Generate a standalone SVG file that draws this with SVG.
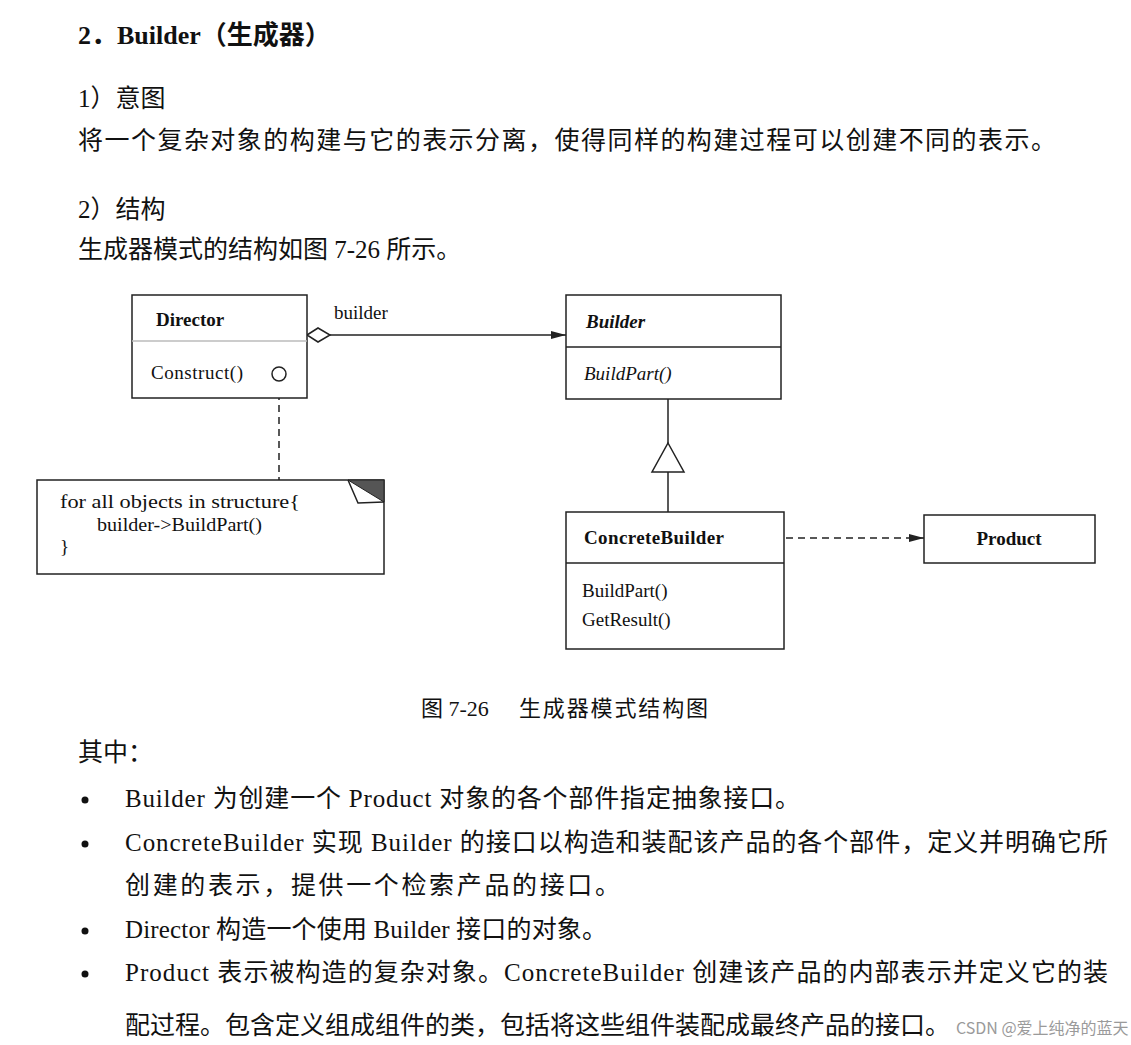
<svg xmlns="http://www.w3.org/2000/svg" width="1131" height="1045" viewBox="0 0 1131 1045">
<style>
.t{font-family:"Liberation Serif","Noto Sans CJK SC",serif;fill:#111}
.body{font-size:25px}
.h{font-size:26px;font-weight:bold}
.d{font-family:"Liberation Serif",serif;font-size:19px;fill:#111}
.b{font-weight:bold}
.i{font-style:italic}
.box{fill:#fff;stroke:#222;stroke-width:1.5}
.ln{stroke:#222;stroke-width:1.5;fill:none}
.dash{stroke:#222;stroke-width:1.5;fill:none;stroke-dasharray:7 5}
.wm{font-family:"Noto Sans CJK SC","Liberation Sans",sans-serif;font-size:16px;fill:#9a9a9a}
</style>
<defs>
<marker id="arr" markerWidth="16" markerHeight="10" refX="15" refY="5" orient="auto" markerUnits="userSpaceOnUse">
<path d="M0,1 L15,5 L0,9 Z" fill="#222"/>
</marker>
</defs>
<rect width="1131" height="1045" fill="#fff"/>

<g id="text">
<text class="t h" x="78" y="44">2．Builder（生成器）</text>
<text class="t body" x="78" y="107">1）意图</text>
<text class="t body" x="78" y="149" textLength="978" lengthAdjust="spacing">将一个复杂对象的构建与它的表示分离，使得同样的构建过程可以创建不同的表示。</text>
<text class="t body" x="78" y="218">2）结构</text>
<text class="t body" x="78" y="258">生成器模式的结构如图 7-26 所示。</text>
<text class="t" font-size="22" x="421" y="716">图 7-26<tspan x="519" textLength="189" lengthAdjust="spacing">生成器模式结构图</tspan></text>
<text class="t body" x="78" y="761">其中：</text>
<circle cx="85" cy="800" r="3.5" fill="#111"/>
<circle cx="85" cy="844" r="3.5" fill="#111"/>
<circle cx="85" cy="931" r="3.5" fill="#111"/>
<circle cx="85" cy="974" r="3.5" fill="#111"/>
<text class="t body" x="125" y="807" textLength="675" lengthAdjust="spacing">Builder 为创建一个 Product 对象的各个部件指定抽象接口。</text>
<text class="t body" x="125" y="851" textLength="983" lengthAdjust="spacing">ConcreteBuilder 实现 Builder 的接口以构造和装配该产品的各个部件，定义并明确它所</text>
<text class="t body" x="125" y="894" textLength="495" lengthAdjust="spacing">创建的表示，提供一个检索产品的接口。</text>
<text class="t body" x="125" y="938" textLength="482" lengthAdjust="spacing">Director 构造一个使用 Builder 接口的对象。</text>
<text class="t body" x="125" y="981" textLength="983" lengthAdjust="spacing">Product 表示被构造的复杂对象。ConcreteBuilder 创建该产品的内部表示并定义它的装</text>
<text class="t body" x="125" y="1034" textLength="825" lengthAdjust="spacing">配过程。包含定义组成组件的类，包括将这些组件装配成最终产品的接口。</text>
<text class="wm" x="956" y="1034">CSDN @爱上纯净的蓝天</text>
</g>

<g id="connectors">
<path class="ln" d="M307,335 L318,328 L330,335 L318,342 Z" fill="#fff"/>
<line class="ln" x1="330" y1="335" x2="566" y2="335" marker-end="url(#arr)"/>
<text class="d" x="334" y="319">builder</text>
<line class="ln" x1="668" y1="399" x2="668" y2="443"/>
<path class="ln" d="M668,443 L684,472 L652,472 Z" fill="#fff"/>
<line class="ln" x1="668" y1="472" x2="668" y2="512"/>
<line class="dash" x1="786" y1="538" x2="924" y2="538" marker-end="url(#arr)"/>
<line class="dash" x1="279" y1="381" x2="279" y2="480"/>
</g>

<g id="director">
<rect class="box" x="132" y="295" width="175" height="103"/>
<line x1="132" y1="341" x2="307" y2="341" stroke="#bbb" stroke-width="1.5"/>
<text class="d b" x="156" y="326">Director</text>
<text class="d" x="151" y="379" textLength="92" lengthAdjust="spacing">Construct()</text>
<circle cx="279" cy="374" r="7" fill="#fff" stroke="#222" stroke-width="1.5"/>
</g>

<g id="builder">
<rect class="box" x="566" y="295" width="215" height="104"/>
<line class="ln" x1="566" y1="347" x2="781" y2="347"/>
<text class="d b i" x="586" y="328">Builder</text>
<text class="d i" x="584" y="380">BuildPart()</text>
</g>

<g id="concretebuilder">
<rect class="box" x="566" y="512" width="218" height="137"/>
<line class="ln" x1="566" y1="563" x2="784" y2="563"/>
<text class="d b" x="584" y="544" textLength="140" lengthAdjust="spacing">ConcreteBuilder</text>
<text class="d" x="582" y="597">BuildPart()</text>
<text class="d" x="582" y="626">GetResult()</text>
</g>

<g id="product">
<rect class="box" x="924" y="515" width="171" height="48"/>
<text class="d b" x="1009" y="545" text-anchor="middle">Product</text>
</g>

<g id="note">
<rect class="box" x="37" y="480" width="347" height="94"/>
<path d="M348,480 L384,480 L384,502 Z" fill="#555" stroke="#222" stroke-width="1"/>
<path d="M348,480 L358,503 L384,502" class="ln" stroke-width="1.2"/>
<text class="d" font-size="20.5" x="60" y="508" textLength="240" lengthAdjust="spacingAndGlyphs">for all objects in structure{</text>
<text class="d" font-size="20" x="97" y="531" textLength="165" lengthAdjust="spacingAndGlyphs">builder-&gt;BuildPart()</text>
<text class="d" font-size="20" x="60" y="553">}</text>
</g>
</svg>
